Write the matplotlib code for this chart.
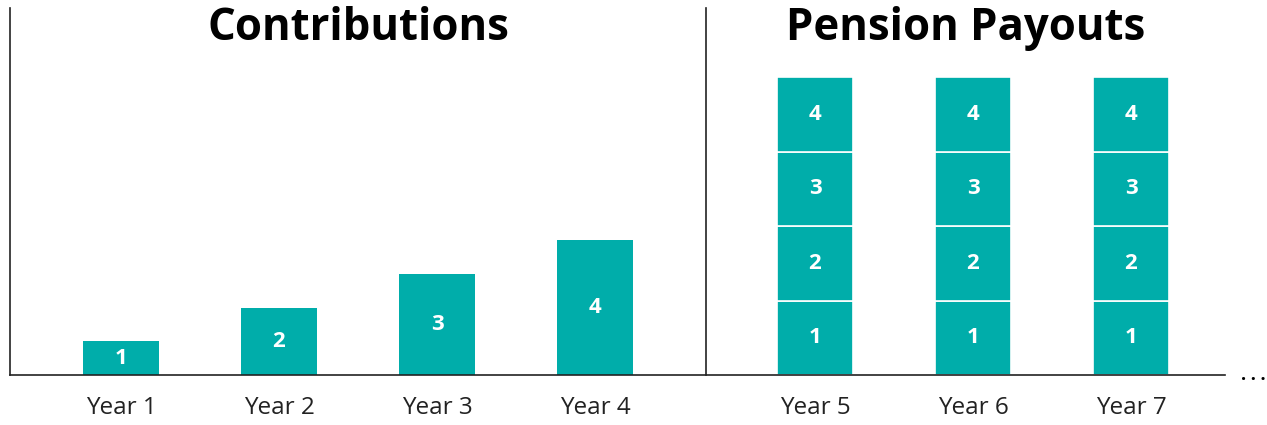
import matplotlib.pyplot as plt
import numpy as np

plt.rcParams['font.family'] = ['Open Sans', 'DejaVu Sans']

# data
contrib_years = ["Year 1", "Year 2", "Year 3", "Year 4"]
contrib_heights = [1, 2, 3, 4]
payout_years = ["Year 5", "Year 6", "Year 7"]
payout_segments = [1, 2, 3, 4]          # labels of stacked blocks
payout_block = 2.21                     # height of one block
teal = "#00ADAA"

W, H = 1267, 425
fig = plt.figure(figsize=(W / 100, H / 100), dpi=100)
ax = fig.add_axes([10 / W, (H - 375) / H, 1215 / W, 367 / H])

bar_w = 0.475
gap = 220 / 158
x_c = np.arange(len(contrib_years))
x_p = x_c[-1] + gap + np.arange(len(payout_years))

# contributions
ax.bar(x_c, contrib_heights, width=bar_w, color=teal, edgecolor="none")
for x, h in zip(x_c, contrib_heights):
    ax.text(x, h / 2, str(h), ha="center", va="center", color="white",
            fontsize=16, fontweight="bold")

# pension payouts (stacked blocks)
for x in x_p:
    bottom = 0
    for s in payout_segments:
        ax.bar(x, payout_block, bottom=bottom, width=bar_w, color=teal,
               edgecolor="white", linewidth=1.2)
        ax.text(x, bottom + payout_block / 2, str(s), ha="center", va="center",
                color="white", fontsize=16, fontweight="bold")
        bottom += payout_block

ymax = 367 / 33.7
ax.set_ylim(0, ymax)
ax.set_xlim(-111 / 158, 1104 / 158)

# divider between the two panels
div_x = x_c[-1] + (706 - 595) / 158
ax.plot([div_x, div_x], [0, ymax], color="#222222", lw=1.2, clip_on=False)

ax.set_xticks(np.concatenate([x_c, x_p]))
ax.set_xticklabels(contrib_years + payout_years, fontsize=17.5, color="#222222")
ax.tick_params(axis="x", length=0, pad=15)
ax.set_yticks([])
for side in ["top", "right"]:
    ax.spines[side].set_visible(False)
for side in ["left", "bottom"]:
    ax.spines[side].set_color("#222222")
    ax.spines[side].set_linewidth(1.2)

# panel titles
fig.text(358 / W, 1 - 40 / H, "Contributions", ha="center", va="baseline",
         fontsize=31.5, fontweight="bold")
fig.text(966 / W, 1 - 40 / H, "Pension Payouts", ha="center", va="baseline",
         fontsize=31.5, fontweight="bold")
fig.text(1253 / W, 1 - 375 / H, ". . .", ha="center", va="center",
         fontsize=13, fontweight="bold")

fig.savefig("out.png", dpi=100)
